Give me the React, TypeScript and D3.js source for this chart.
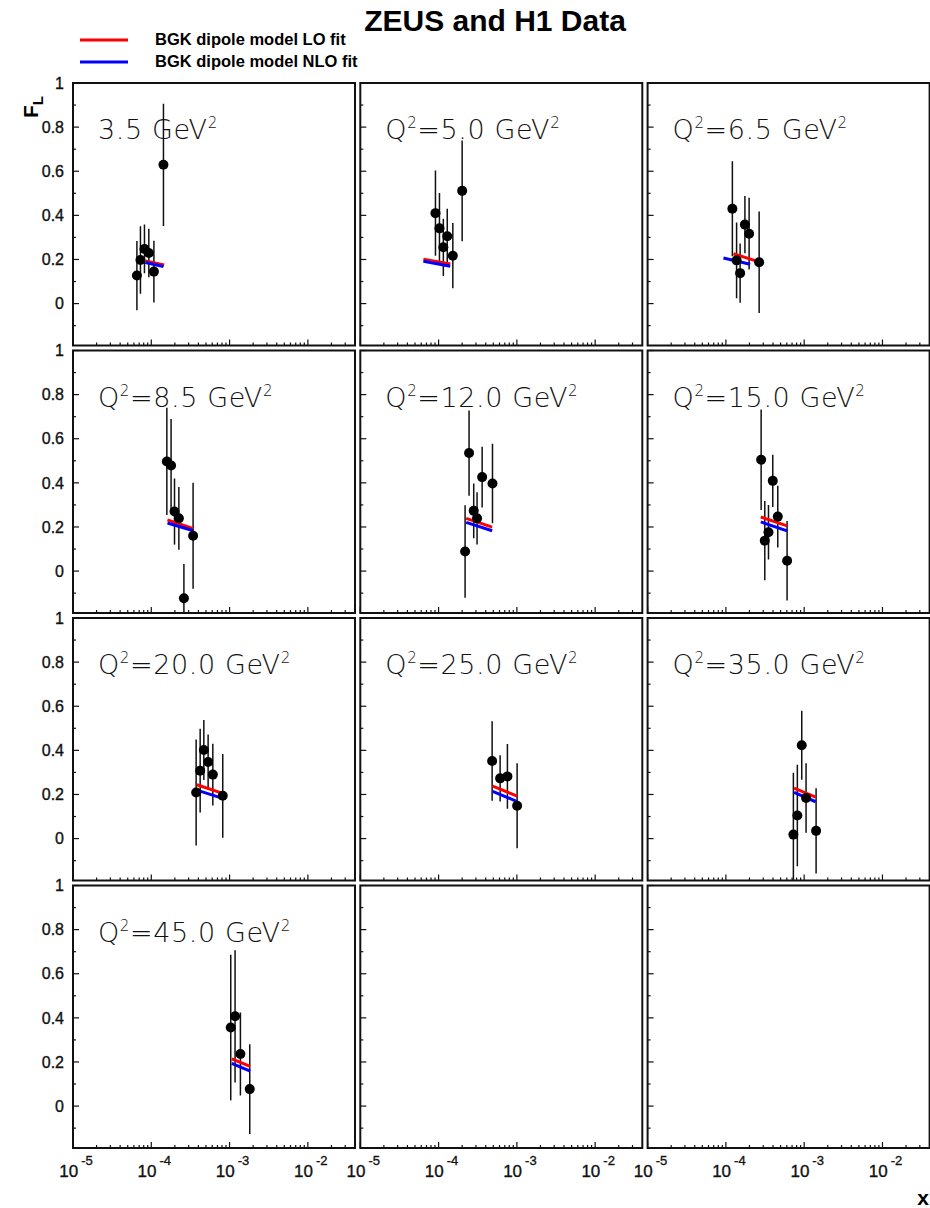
import * as d3 from "d3";

// Q^2 bins (GeV^2), one panel each
const q2Values = [3.5, 5.0, 6.5, 8.5, 12.0, 15.0, 20.0, 25.0, 35.0, 45.0];

// measured x, F_L and total error per Q^2 bin
const xPoints: number[][] = [
  [6.55e-5, 7.27e-5, 8.18e-5, 9.3e-5, 1.08e-4, 1.43e-4],
  [9.12e-5, 1.026e-4, 1.15e-4, 1.29e-4, 1.52e-4, 2.0e-4],
  [1.21e-4, 1.37e-4, 1.52e-4, 1.75e-4, 1.98e-4, 2.66e-4],
  [1.58e-4, 1.79e-4, 1.98e-4, 2.25e-4, 2.61e-4, 3.42e-4],
  [2.18e-4, 2.45e-4, 2.81e-4, 3.1e-4, 3.6e-4, 4.88e-4],
  [2.82e-4, 3.14e-4, 3.5e-4, 3.97e-4, 4.6e-4, 6.05e-4],
  [3.74e-4, 4.21e-4, 4.69e-4, 5.32e-4, 6.11e-4, 8.18e-4],
  [4.83e-4, 6.11e-4, 7.57e-4, 1.007e-3],
  [7.28e-4, 8.18e-4, 9.31e-4, 1.057e-3, 1.42e-3],
  [1.035e-3, 1.175e-3, 1.375e-3, 1.81e-3],
];
const flPoints: number[][] = [
  [0.127, 0.198, 0.248, 0.229, 0.145, 0.629],
  [0.41, 0.341, 0.255, 0.305, 0.217, 0.511],
  [0.43, 0.196, 0.138, 0.358, 0.317, 0.187],
  [0.497, 0.479, 0.27, 0.239, -0.123, 0.16],
  [0.089, 0.535, 0.273, 0.239, 0.426, 0.397],
  [0.505, 0.138, 0.176, 0.409, 0.247, 0.047],
  [0.209, 0.308, 0.402, 0.347, 0.29, 0.194],
  [0.352, 0.273, 0.282, 0.149],
  [0.018, 0.105, 0.423, 0.184, 0.035],
  [0.356, 0.407, 0.236, 0.077],
];
const flErrors: number[][] = [
  [0.157, 0.153, 0.11, 0.11, 0.14, 0.277],
  [0.193, 0.16, 0.13, 0.125, 0.148, 0.228],
  [0.215, 0.172, 0.134, 0.13, 0.163, 0.23],
  [0.243, 0.21, 0.15, 0.142, 0.155, 0.24],
  [0.21, 0.193, 0.124, 0.118, 0.138, 0.18],
  [0.228, 0.18, 0.124, 0.118, 0.14, 0.18],
  [0.24, 0.19, 0.136, 0.125, 0.14, 0.19],
  [0.18, 0.105, 0.147, 0.193],
  [0.28, 0.23, 0.156, 0.158, 0.193],
  [0.33, 0.3, 0.188, 0.203],
];

// BGK dipole model curves (start / end of x range)
const loFitX: number[][] = [
  [8.4e-5, 1.46e-4], [6.4e-5, 1.41e-4], [1.25e-4, 2.37e-4], [1.61e-4, 3.45e-4], [2.25e-4, 4.83e-4],
  [2.79e-4, 6.05e-4], [3.82e-4, 8.18e-4], [4.91e-4, 1.007e-3], [7.43e-4, 1.4e-3], [1.067e-3, 1.83e-3],
];
const loFitY: number[][] = [
  [0.193, 0.175], [0.201, 0.18], [0.226, 0.195], [0.232, 0.192], [0.239, 0.199],
  [0.245, 0.205], [0.244, 0.205], [0.238, 0.193], [0.229, 0.188], [0.214, 0.18],
];
const nloFitX: number[][] = [
  [8.4e-5, 1.43e-4], [6.4e-5, 1.41e-4], [9.3e-5, 2.04e-4], [1.61e-4, 3.45e-4], [2.25e-4, 4.83e-4],
  [2.79e-4, 6.05e-4], [3.82e-4, 8.18e-4], [4.91e-4, 1.007e-3], [7.43e-4, 1.4e-3], [1.067e-3, 1.83e-3],
];
const nloFitY: number[][] = [
  [0.186, 0.168], [0.192, 0.169], [0.207, 0.178], [0.218, 0.183], [0.221, 0.183],
  [0.223, 0.182], [0.22, 0.182], [0.214, 0.168], [0.209, 0.167], [0.194, 0.159],
];

const yTicks = [0, 0.2, 0.4, 0.6, 0.8, 1];
const yMinor = [-0.1, 0.1, 0.3, 0.5, 0.7, 0.9];
const xDecades = [-5, -4, -3, -2];

// ---- layout ----
const W = 930;
const H = 1208;
const nCols = 3;
const nRows = 4;
const left0 = 73;
const top0 = 83;
const colStep = 287.3;
const rowStep = 267.5;
const pw = 282;
const ph = 262.5;

const x = d3.scaleLog().domain([1e-5, 0.04]).range([0, pw]);
const y = d3.scaleLinear().domain([-0.19, 1]).range([ph, 0]);

const xMinor: number[] = [];
xDecades.forEach(e => {
  for (let k = 2; k <= 9; k++) {
    const v = k * Math.pow(10, e);
    if (v < 0.04) xMinor.push(v);
  }
});

const fitLine = d3.line<[number, number]>().x(d => x(d[0])).y(d => y(d[1]));

const AX_FONT = "'Liberation Sans', Arial, Helvetica, sans-serif";
const LABEL_FONT = "'DejaVu Sans', 'Open Sans', sans-serif";

function PanelLabel({ i }: { i: number }) {
  const val = q2Values[i].toFixed(1);
  const base = { fontFamily: LABEL_FONT, fontWeight: 200, fill: "#111" } as const;
  return (
    <text x={25} y={56} fontSize={27} letterSpacing={0.6} style={base}>
      {i > 0 && <tspan>Q</tspan>}
      {i > 0 && <tspan fontSize={15} dy={-11}>2</tspan>}
      <tspan dy={i > 0 ? 11 : 0}>{i > 0 ? `=${val} GeV` : `${val} GeV`}</tspan>
      <tspan fontSize={15} dy={-11}>2</tspan>
    </text>
  );
}

function Panel({ idx }: { idx: number }) {
  const col = idx % nCols;
  const row = Math.floor(idx / nCols);
  const tx = left0 + col * colStep;
  const ty = top0 + row * rowStep;
  const hasData = idx < q2Values.length;
  const clipId = `clip-${idx}`;
  return (
    <g transform={`translate(${tx},${ty})`}>
      <defs>
        <clipPath id={clipId}>
          <rect x={0} y={0} width={pw} height={ph} />
        </clipPath>
      </defs>
      <rect x={0} y={0} width={pw} height={ph} fill="white" stroke="#111" strokeWidth={2} />
      {/* y ticks, inward */}
      {yTicks.map(t => (
        <line key={`ym${t}`} x1={0} x2={6} y1={y(t)} y2={y(t)} stroke="#111" strokeWidth={1.2} />
      ))}
      {yMinor.map(t => (
        <line key={`yn${t}`} x1={0} x2={3} y1={y(t)} y2={y(t)} stroke="#111" strokeWidth={1.2} />
      ))}
      {/* x ticks, inward */}
      {xDecades.map(e => (
        <line key={`xm${e}`} x1={x(Math.pow(10, e))} x2={x(Math.pow(10, e))} y1={ph} y2={ph - 6} stroke="#111" strokeWidth={1.2} />
      ))}
      {xMinor.map(v => (
        <line key={`xn${v}`} x1={x(v)} x2={x(v)} y1={ph} y2={ph - 3} stroke="#111" strokeWidth={1.2} />
      ))}
      {col === 0 &&
        yTicks.map(t => (
          <text key={`yl${t}`} x={-9} y={y(t)} dy="0.36em" textAnchor="end" fontSize={16} fontFamily={AX_FONT}
            fill="#111" stroke="#111" strokeWidth={0.35}>
            {t === 0 || t === 1 ? String(t) : t.toFixed(1)}
          </text>
        ))}
      {row === nRows - 1 &&
        xDecades.map(e => (
          <text key={`xl${e}`} x={x(Math.pow(10, e)) + 3} y={ph + 29} textAnchor="middle" fontSize={17} fontFamily={AX_FONT}
            fill="#111" stroke="#111" strokeWidth={0.35}>
            <tspan>10</tspan>
            <tspan dx={3} dy={-12} fontSize={13}>{String(e)}</tspan>
          </text>
        ))}
      {hasData && (
        <g clipPath={`url(#${clipId})`}>
          {xPoints[idx].map((xv, j) => (
            <line
              key={`e${j}`}
              x1={x(xv)}
              x2={x(xv)}
              y1={y(flPoints[idx][j] + flErrors[idx][j])}
              y2={y(flPoints[idx][j] - flErrors[idx][j])}
              stroke="#111"
              strokeWidth={1.5}
            />
          ))}
          <path
            d={fitLine([[loFitX[idx][0], loFitY[idx][0]], [loFitX[idx][1], loFitY[idx][1]]]) || ""}
            stroke="#ff0000"
            strokeWidth={3}
            fill="none"
          />
          <path
            d={fitLine([[nloFitX[idx][0], nloFitY[idx][0]], [nloFitX[idx][1], nloFitY[idx][1]]]) || ""}
            stroke="#0000ff"
            strokeWidth={3}
            fill="none"
          />
          {xPoints[idx].map((xv, j) => (
            <circle key={`p${j}`} cx={x(xv)} cy={y(flPoints[idx][j])} r={5} fill="#000" />
          ))}
        </g>
      )}
      {hasData && <PanelLabel i={idx} />}
    </g>
  );
}

export default function App() {
  const panels = d3.range(nCols * nRows);
  return (
    <div style={{ position: "absolute", left: 0, top: 0 }}>
      <svg width={W} height={H} viewBox={`0 0 ${W} ${H}`} style={{ display: "block", background: "white" }}>
        <text x={495} y={31} textAnchor="middle" fontSize={30} fontWeight="bold" fontFamily={AX_FONT} fill="#000">
          ZEUS and H1 Data
        </text>
        {/* legend */}
        <line x1={80} x2={128} y1={40} y2={40} stroke="#ff0000" strokeWidth={3} />
        <text x={155} y={45} fontSize={16.5} fontWeight="bold" fontFamily={AX_FONT} fill="#000">
          BGK dipole model LO fit
        </text>
        <line x1={80} x2={128} y1={62} y2={62} stroke="#0000ff" strokeWidth={3} />
        <text x={155} y={67} fontSize={16.5} fontWeight="bold" fontFamily={AX_FONT} fill="#000">
          BGK dipole model NLO fit
        </text>
        {/* y title */}
        <text transform="translate(38,96) rotate(-90)" textAnchor="end" fontSize={21} fontWeight="bold" fontFamily={AX_FONT} fill="#000">
          <tspan>F</tspan>
          <tspan fontSize={15} dy={5}>L</tspan>
        </text>
        {panels.map(i => (
          <Panel key={i} idx={i} />
        ))}
        <text x={929} y={1205} textAnchor="end" fontSize={21} fontWeight="bold" fontFamily={AX_FONT} fill="#000">
          x
        </text>
      </svg>
    </div>
  );
}
